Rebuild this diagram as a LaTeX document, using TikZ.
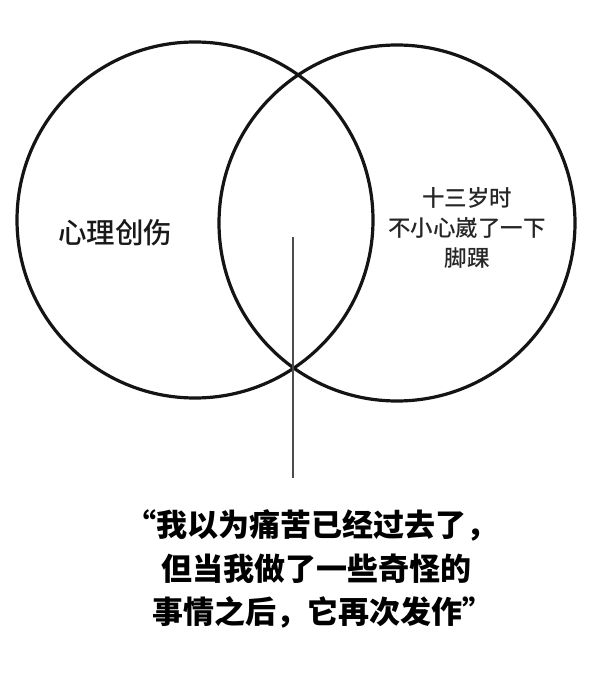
\documentclass[tikz,border=0pt]{standalone}
\usepackage{fontspec}
\newfontfamily\cjk{Noto Sans CJK SC Medium}
\newfontfamily\cjkblack{Noto Sans CJK SC Black}
\begin{document}
\begin{tikzpicture}[x=1pt,y=-1pt,
  ring/.style={draw=black!92,line width=3.2pt,circle,minimum size=356pt,inner sep=0pt},
  lbl/.style={font=\cjk\fontsize{28.5}{34}\selectfont,text=black!90,inner sep=0pt},
  rlbl/.style={font=\cjk\fontsize{22.5}{30}\selectfont,text=black!85,align=center,inner sep=0pt},
  quote/.style={font=\cjkblack\fontsize{31}{44}\selectfont,text=black,inner sep=0pt},
  pointer/.style={draw=black!70,line width=2.8pt}]
\useasboundingbox[fill=white] (0,0) rectangle (600,687);
\node[ring] (L) at (195,220) {};
\node[ring] (R) at (397,223) {};
\node[lbl] (trauma) at (115,233) {心理创伤};
\node[rlbl] (ankle) at (467,228) {十三岁时\\不小心崴了一下\\脚踝};
\coordinate (ptop) at (293,237);
\coordinate (pbot) at (293,478);
\draw[pointer] (ptop) -- (pbot);
\node[quote] (q1) at (311,525) {“我以为痛苦已经过去了，};
\node[quote] (q2) at (316,569) {但当我做了一些奇怪的};
\node[quote] (q3) at (323,612) {事情之后，它再次发作”};
\end{tikzpicture}
\end{document}
